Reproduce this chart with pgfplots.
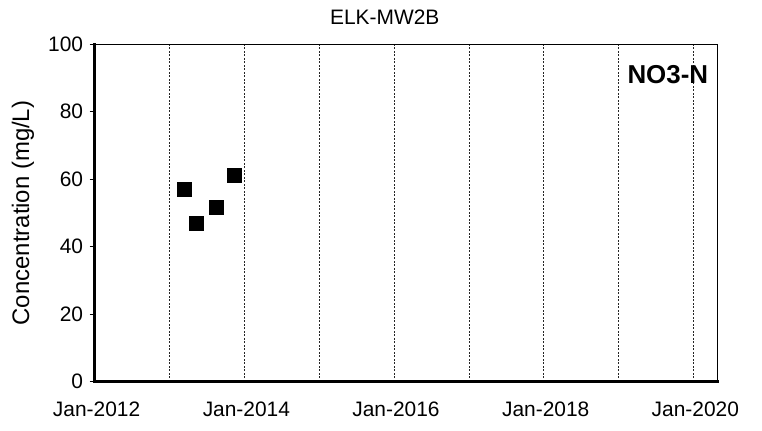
\documentclass[border=0pt]{standalone}
\usepackage{pgfplots}
\pgfplotsset{compat=1.18}
\usepackage{fontspec}
\setmainfont{Liberation Sans}
\begin{document}
\begin{tikzpicture}
\begin{axis}[
  scale only axis, width=622.7bp, height=337.4bp,
  xmin=0, xmax=3039, ymin=0, ymax=100,
  axis line style={line width=1.3bp},
  xtick={0,731,1461,2192,2922},
  xticklabels={Jan-2012,Jan-2014,Jan-2016,Jan-2018,Jan-2020},
  minor xtick={366,1096,1827,2557},
  xmajorgrids, xminorgrids,
  major grid style={black!85, line width=0.8bp, dash pattern=on 2bp off 1.5bp},
  minor grid style={black!85, line width=0.8bp, dash pattern=on 2bp off 1.5bp},
  x tick style={draw=none},
  minor x tick style={draw=none},
  ytick={0,20,40,60,80,100},
  ytick pos=left, tick align=outside,
  y tick style={black, line width=1.2bp},
  major tick length=5bp,
  tick label style={font=\fontsize{21}{25}\selectfont},
  /pgf/number format/assume math mode=true,
  xticklabel style={anchor=north, yshift=-12bp, xshift=2bp},
  yticklabel style={anchor=east, xshift=-3bp},
  clip=false,
]
\addplot[only marks, mark=square*, mark size=7bp, mark options={fill=black, draw=black}] coordinates {
  (438,57.0) (495,46.9) (592,51.7) (680,61.1)
};
\draw[line width=2.7bp, line cap=rect] (rel axis cs:0,1) -- (rel axis cs:0,0) -- (rel axis cs:1,0);
\node[rotate=90, font=\fontsize{24}{28}\selectfont, inner sep=0] at ([xshift=-71.6bp]rel axis cs:0,0.5) {Concentration (mg/L)};
\node[font=\fontsize{21}{25}\selectfont, inner sep=0] at ([yshift=27.6bp]rel axis cs:0.466,1) {ELK-MW2B};
\node[font=\bfseries\fontsize{26}{30}\selectfont, anchor=east, inner sep=0] at ([xshift=-9bp,yshift=-30bp]rel axis cs:1,1) {NO3-N};
\coordinate (o) at (rel axis cs:0,0);
\end{axis}
\pgfresetboundingbox
\useasboundingbox (o) ++(-94.6bp,-49.3bp) rectangle ++(762bp,431bp);
\end{tikzpicture}
\end{document}
